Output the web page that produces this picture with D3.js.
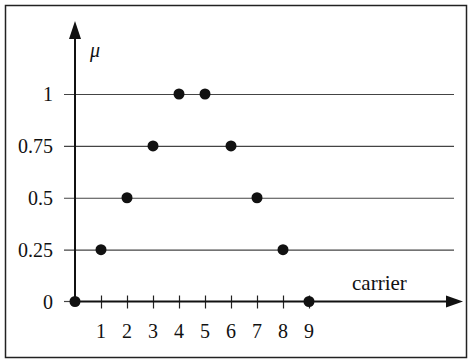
<!DOCTYPE html>
<html>
<head>
<meta charset="utf-8">
<script src="https://cdn.jsdelivr.net/npm/d3@7"></script>
<style>
  body { margin: 0; background: #fff; }
</style>
</head>
<body>
<div id="chart"></div>
<script>
const WIDTH = 469;
const HEIGHT = 360;
const FONT = "Liberation Serif, DejaVu Serif, serif";

// carrier values and their membership degree
const carrier = [0, 1, 2, 3, 4, 5, 6, 7, 8, 9];
const mu = [0, 0.25, 0.5, 0.75, 1, 1, 0.75, 0.5, 0.25, 0];
const yTicks = [0, 0.25, 0.5, 0.75, 1];
const xTicks = [1, 2, 3, 4, 5, 6, 7, 8, 9];

const svg = d3.select('#chart')
    .append('svg')
        .attr('width', WIDTH)
        .attr('height', HEIGHT)
        .style('font-family', FONT);

// frame
svg.append('rect')
    .attr('x', 5.5).attr('y', 5.5)
    .attr('width', 461).attr('height', 352)
    .attr('fill', 'none')
    .attr('stroke', '#222')
    .attr('stroke-width', 1.5);

const x = d3.scaleLinear().domain([0, 9]).range([75, 309]);
const y = d3.scaleLinear().domain([0, 1]).range([301.5, 94]);

// horizontal grid lines
const grid = d3.axisLeft(y)
    .tickValues(yTicks.filter(d => d > 0))
    .tickSize(-(454 - 75))
    .tickFormat('');
svg.append('g')
    .attr('transform', `translate(${x(0)},0)`)
    .call(grid)
    .call(g => g.select('.domain').remove())
    .call(g => g.selectAll('line')
        .attr('x1', -11)
        .attr('stroke', '#444')
        .attr('stroke-width', 1.2));

// y tick labels
svg.append('g')
    .selectAll('text')
    .data(yTicks)
    .enter()
    .append('text')
        .attr('x', 53)
        .attr('y', d => y(d))
        .attr('dy', '0.35em')
        .attr('text-anchor', 'end')
        .style('font-family', FONT)
        .style('font-size', '20px')
        .attr('fill', '#111')
        .text(d => d);

// short tick at 0 on left
svg.append('line')
    .attr('x1', 64).attr('x2', x(0))
    .attr('y1', y(0)).attr('y2', y(0))
    .attr('stroke', '#444').attr('stroke-width', 1.2);

// x axis ticks
const xAxis = d3.axisBottom(x)
    .tickValues(xTicks)
    .tickSize(7)
    .tickFormat('');
svg.append('g')
    .attr('transform', `translate(0,${y(0) - 6})`)
    .call(xAxis)
    .call(g => g.select('.domain').remove())
    .call(g => g.selectAll('line').attr('y2', 13).attr('stroke', '#222').attr('stroke-width', 1.2));

svg.append('g')
    .selectAll('text')
    .data(xTicks)
    .enter()
    .append('text')
        .attr('x', d => x(d))
        .attr('y', 338)
        .attr('text-anchor', 'middle')
        .style('font-family', FONT)
        .style('font-size', '20px')
        .attr('fill', '#111')
        .text(d => d);

// axes with arrows
svg.append('line')
    .attr('x1', x(0)).attr('x2', 450)
    .attr('y1', y(0)).attr('y2', y(0))
    .attr('stroke', '#111').attr('stroke-width', 2);
svg.append('path')
    .attr('d', `M463,${y(0)} L446,${y(0) - 6} L446,${y(0) + 6} Z`)
    .attr('fill', '#111');

svg.append('line')
    .attr('x1', x(0)).attr('x2', x(0))
    .attr('y1', y(0)).attr('y2', 36)
    .attr('stroke', '#111').attr('stroke-width', 2);
svg.append('path')
    .attr('d', `M${x(0)},21 L${x(0) - 6},39 L${x(0) + 6},39 Z`)
    .attr('fill', '#111');

// axis titles
svg.append('text')
    .attr('x', 90).attr('y', 57)
    .style('font-family', FONT)
    .style('font-size', '20px')
    .style('font-style', 'italic')
    .attr('fill', '#111')
    .text('\u03bc');

svg.append('text')
    .attr('x', 352).attr('y', 290)
    .style('font-family', FONT)
    .style('font-size', '21px')
    .attr('fill', '#111')
    .text('carrier');

// points
svg.append('g')
    .selectAll('circle')
    .data(carrier)
    .enter()
    .append('circle')
        .attr('cx', d => x(d))
        .attr('cy', (d, i) => y(mu[i]))
        .attr('r', 5.5)
        .attr('fill', '#111');
</script>
</body>
</html>
